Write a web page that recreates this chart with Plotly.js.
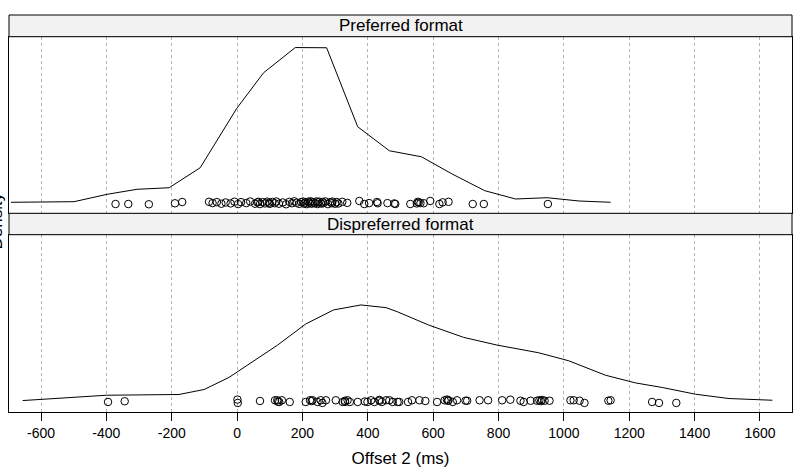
<!DOCTYPE html>
<html>
<head>
<meta charset="utf-8">
<script src="https://cdn.plot.ly/plotly-3.0.1.min.js"></script>
<style>
  html, body { margin: 0; padding: 0; background: #fff; }
  #plot { width: 796px; height: 474px; }
</style>
</head>
<body>
<div id="plot"></div>
<script>
// Offset 2 (ms) observations, one array per condition
const prefOffsets = [
  -372, -333, -270, -190, -168,
  -86, -75, -62, -48, -35, -20, -8, 3, 12, 28, 40, 55, 62, 65, 70, 78, 85, 92, 98, 100, 108, 115,
  120, 128, 140, 150, 160, 168, 175, 182, 190, 196, 202, 205, 208, 213, 218, 222, 225, 228, 233,
  238, 243, 246, 248, 252, 258, 262, 264, 270, 278, 285, 290, 292, 300, 305, 310, 322, 337,
  374, 389, 404, 428, 430, 460, 481, 484, 530, 550, 553, 556, 561, 571, 591, 619, 629, 647, 721, 755, 951
];
// vertical jitter of the rug points (density units)
const prefJitter = [
  -0.000024, -0.000024, -0.000028, -0.000013, 0.000007,
  0.000010, -0.000010, 0.000005, -0.000020, 0.000000, -0.000015, 0.000012, -0.000025, 0.000005, -0.000010, 0.000015, -0.000020, 0.000000, 0.000010, -0.000025, 0.000005, -0.000015, 0.000012, -0.000005, -0.000022, 0.000008, -0.000012,
  0.000015, -0.000020, 0.000000, -0.000028, 0.000010, -0.000012, 0.000018, -0.000005, -0.000022, 0.000006, 0.000014, -0.000018, 0.000000, -0.000026, 0.000012, -0.000008, 0.000018, -0.000020, 0.000004,
  -0.000014, 0.000016, -0.000024, 0.000002, 0.000012, -0.000018, 0.000008, -0.000010, 0.000016, -0.000026, 0.000004, -0.000012, 0.000014, -0.000020, 0.000006, -0.000016, 0.000010, -0.000006,
  0.000023, -0.000024, -0.000010, 0.000007, -0.000012, -0.000010, -0.000015, -0.000024, -0.000024, -0.000015, 0.000010, 0.000000, -0.000010, -0.000012, 0.000023, -0.000024, 0.000002, 0.000010, -0.000024, -0.000024, -0.000024
];

const dispOffsets = [
  -395, -344, 1, 2, 70, 116, 123, 125, 129, 137, 161, 210, 223, 228, 231, 246, 256, 261, 272,
  302, 323, 330, 330, 338, 345, 369, 391, 399, 410, 420, 435, 436, 443, 456, 466, 476, 491, 496,
  523, 535, 558, 576, 612, 635, 642, 645, 647, 660, 673, 699, 704, 742, 768, 811, 836, 867, 877,
  898, 918, 925, 930, 933, 941, 956, 1020, 1030, 1048, 1063, 1136, 1143, 1270, 1291, 1344
];
const dispJitter = [
  -0.000013, -0.000002, 0.000024, -0.000028, 0.000002, 0.000013, 0.000013, -0.000010, -0.000013, 0.000013, -0.000013, -0.000013, 0.000013, 0.000000, 0.000013, -0.000013, 0.000013, -0.000028, 0.000013,
  0.000013, -0.000013, -0.000013, 0.000005, 0.000013, -0.000013, -0.000013, -0.000006, -0.000013, 0.000013, -0.000013, 0.000018, 0.000005, -0.000013, 0.000013, 0.000013, -0.000013, -0.000013, -0.000013,
  -0.000013, 0.000013, 0.000013, 0.000002, -0.000013, 0.000013, 0.000024, 0.000005, 0.000013, -0.000013, 0.000013, 0.000006, 0.000006, 0.000013, 0.000013, 0.000013, 0.000022, 0.000006, -0.000013,
  0.000006, 0.000006, 0.000013, 0.000000, 0.000018, 0.000006, 0.000006, 0.000013, 0.000013, 0.000006, -0.000028, 0.000006, 0.000013, -0.000013, -0.000028, -0.000028
];

// kernel density estimates
const prefDensX = [-692, -595, -499, -398, -306, -208, -113, -1, 81, 178, 274, 369, 466, 564, 658, 758, 852, 949, 1046, 1143];
const prefDensY = [0.0000025, 0.000007, 0.0000118, 0.000126, 0.000204, 0.000228, 0.000538, 0.001458, 0.002009, 0.002400, 0.002397,
                   0.001173, 0.000801, 0.000708, 0.000441, 0.000182, 0.0000536, 0.0000737, 0.0000226, 0.0000025];

const dispDensX = [-656, -591, -400, -178, -101, -25, 57, 124, 210, 295, 379, 456, 490, 586, 693, 795, 923, 1015, 1127, 1219, 1301, 1403, 1505, 1638];
const dispDensY = [0.0000087, 0.0000288, 0.0000907, 0.000102, 0.000179, 0.000365, 0.000633, 0.000865, 0.00119, 0.001407, 0.001484,
                   0.001442, 0.00138, 0.001174, 0.000984, 0.000865, 0.000746, 0.000622, 0.0004, 0.000281, 0.00021, 0.000106, 0.00004, 0.0000133];

const tickValues = [-600, -400, -200, 0, 200, 400, 600, 800, 1000, 1200, 1400, 1600];
const tickLabels = ['-600', '-400', '-200', '0', '200', '400', '600', '800', '1000', '1200', '1400', '1600'];
const panelNames = ['Preferred format', 'Dispreferred format'];

const densMax = Math.max(...prefDensY, ...dispDensY);
const yRange = [-0.07 * densMax, 1.07 * densMax];
const xRange = [-698, 1698];

// panel / strip layout (paper fractions, bottom to top)
const lowerPanel = [0, 0.4466];
const lowerStrip = [0.4466, 0.5005];
const upperPanel = [0.5005, 0.9453];
const upperStrip = [0.9453, 1];

const lineStyle = { color: '#000', width: 1 };
const markerStyle = { symbol: 'circle-open', size: 7.5, color: '#000', line: { color: '#000', width: 1 } };

const traces = [
  { x: prefDensX, y: prefDensY, xaxis: 'x2', yaxis: 'y2', mode: 'lines', line: lineStyle, hoverinfo: 'skip' },
  { x: prefOffsets, y: prefJitter, xaxis: 'x2', yaxis: 'y2', mode: 'markers', marker: markerStyle, hoverinfo: 'x' },
  { x: dispDensX, y: dispDensY, xaxis: 'x', yaxis: 'y', mode: 'lines', line: lineStyle, hoverinfo: 'skip' },
  { x: dispOffsets, y: dispJitter, xaxis: 'x', yaxis: 'y', mode: 'markers', marker: markerStyle, hoverinfo: 'x' }
];

const gridStyle = { showgrid: true, gridcolor: '#b4b4b4', gridwidth: 1, griddash: 'dot' };

const layout = {
  width: 796, height: 474,
  margin: { l: 9, r: 4, t: 15, b: 62 },
  paper_bgcolor: '#fff', plot_bgcolor: '#fff',
  showlegend: false,
  font: { family: 'Liberation Sans, Arial, Helvetica, sans-serif', color: '#000', size: 14 },
  xaxis: Object.assign({
    domain: [0, 1], anchor: 'y', range: xRange,
    tickmode: 'array', tickvals: tickValues, ticktext: tickLabels,
    ticks: 'outside', ticklen: 8, tickwidth: 1, tickcolor: '#000',
    tickfont: { size: 14, color: '#000' },
    showline: true, linecolor: '#000', linewidth: 1, mirror: true, zeroline: false,
    title: { text: 'Offset 2 (ms)', font: { size: 17, color: '#000' }, standoff: 12 }
  }, gridStyle),
  xaxis2: Object.assign({
    domain: [0, 1], anchor: 'y2', range: xRange,
    tickmode: 'array', tickvals: tickValues,
    ticks: '', showticklabels: false,
    showline: true, linecolor: '#000', linewidth: 1, mirror: true, zeroline: false
  }, gridStyle),
  xaxis3: {
    overlaying: 'x', anchor: 'free', position: 1, side: 'top', range: xRange,
    tickmode: 'array', tickvals: tickValues,
    ticks: 'outside', ticklen: 8, tickwidth: 1, tickcolor: '#000',
    showticklabels: false, showgrid: false, showline: false, zeroline: false
  },
  yaxis: {
    domain: lowerPanel, anchor: 'x', range: yRange,
    showline: true, linecolor: '#000', linewidth: 1, mirror: true,
    ticks: '', showticklabels: false, showgrid: false, zeroline: false
  },
  yaxis2: {
    domain: upperPanel, anchor: 'x2', range: yRange,
    showline: true, linecolor: '#000', linewidth: 1, mirror: true,
    ticks: '', showticklabels: false, showgrid: false, zeroline: false
  },
  shapes: [upperStrip, lowerStrip].map(d => ({
    type: 'rect', xref: 'paper', yref: 'paper', x0: 0, x1: 1, y0: d[0], y1: d[1],
    fillcolor: '#f2f2f2', line: { color: '#000', width: 1 }, layer: 'above'
  })),
  annotations: [
    { text: panelNames[0], xref: 'paper', yref: 'paper', x: 0.5, y: (upperStrip[0] + upperStrip[1]) / 2,
      xanchor: 'center', yanchor: 'middle', showarrow: false, font: { size: 17, color: '#000' } },
    { text: panelNames[1], xref: 'paper', yref: 'paper', x: 0.5, y: (lowerStrip[0] + lowerStrip[1]) / 2,
      xanchor: 'center', yanchor: 'middle', showarrow: false, font: { size: 17, color: '#000' } },
    { text: 'Density', xref: 'paper', yref: 'paper', x: -0.0166, y: 0.48, textangle: -90,
      xanchor: 'center', yanchor: 'middle', showarrow: false, font: { size: 17, color: '#000' } }
  ]
};

Plotly.newPlot('plot', traces, layout, { displayModeBar: false, staticPlot: true });
</script>
</body>
</html>
